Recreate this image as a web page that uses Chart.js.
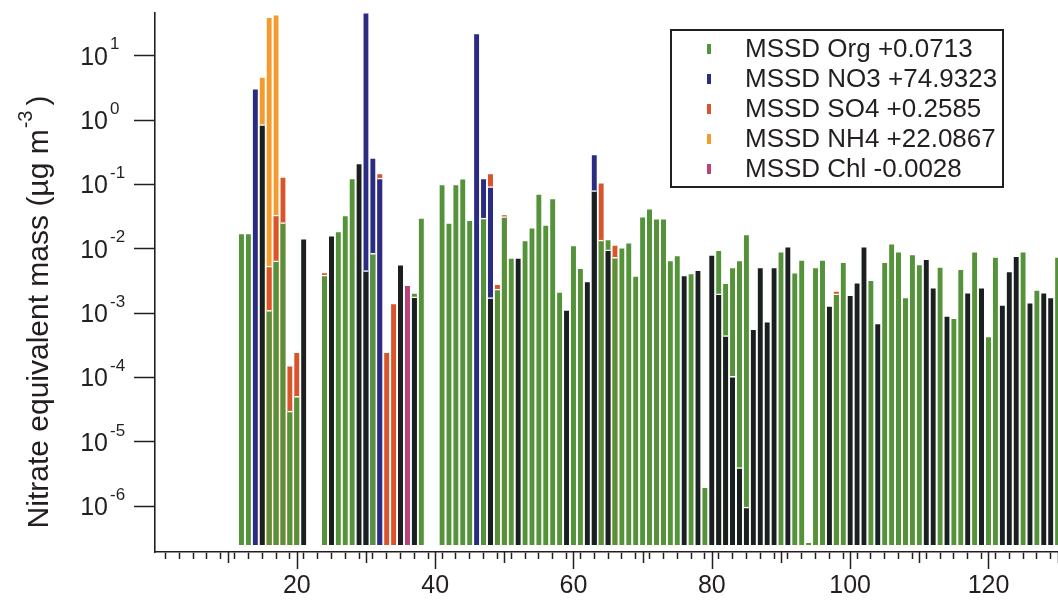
<!DOCTYPE html>
<html>
<head>
<meta charset="utf-8">
<title>MSSD spectrum</title>
<script src="https://cdn.jsdelivr.net/npm/chart.js@4.4.1/dist/chart.umd.min.js"></script>
<style>
  body { margin: 0; background: #fff; }
  canvas { display: block; }
</style>
</head>
<body>
<canvas id="spectrum" width="1058" height="607"></canvas>
<script>
// MSSD difference spectrum per m/z, stacked by species (log axis)

// dark bars (not in the legend), bottom of the stack
const darkMz = [15, 21, 25, 29, 30, 35, 37, 48, 52, 59, 62, 63, 65, 76, 78, 80, 81, 82, 83, 84, 85, 86, 87, 88, 89, 91,
  97, 100, 101, 102, 104, 111, 112, 114, 117, 119, 122, 123, 124, 126, 128, 129];
const darkVals = [0.85, 0.0146, 0.0162, 0.214, 0.0046, 0.00575, 0.00179, 0.00174, 0.0073, 0.00114, 0.00316, 0.080, 0.0096,
  0.0039, 0.0047, 0.0081, 0.0020, 0.00045, 1.04e-4, 4.0e-6, 9.7e-7, 5.7e-4, 0.0052, 7.5e-4, 0.0052, 0.0109,
  0.00131, 0.00192, 0.0030, 0.0109, 7.0e-4, 0.0070, 0.00252, 9.2e-4, 0.0021, 0.00252, 0.00136, 0.0045, 0.0078, 0.00148, 0.0021, 0.00177];

// Org
const orgMz = [12, 13, 16, 17, 18, 19, 20, 24, 26, 27, 28, 31, 37, 38, 41, 42, 43, 44, 45, 47, 49, 50,
  51, 53, 54, 55, 56, 57, 58, 60, 61, 64, 65, 66, 67, 68, 69, 70, 71, 72, 73, 74, 75, 77, 79,
  81, 82, 83, 84, 85, 90, 92, 93, 94, 95, 96, 98, 99, 103, 105, 106, 107, 108, 109, 110,
  113, 115, 116, 118, 120, 121, 125, 127, 130];
const orgVals = [0.0175, 0.0175, 0.00111, 0.0065, 0.0256, 3.0e-5, 5.1e-5, 0.0039, 0.0188, 0.0335, 0.125, 0.0085, 3.0e-4, 0.0306,
  0.101, 0.0256, 0.101, 0.124, 0.0281, 0.030, 0.00236, 0.0316,
  0.0073, 0.0137, 0.0215, 0.0723, 0.0238, 0.0612, 0.00216, 0.0114, 0.00508, 0.0137, 0.0046, 0.0074, 0.0105, 0.0126, 0.00384, 0.032,
  0.0426, 0.0298, 0.0298, 0.0067, 0.0080, 0.0042, 2.0e-6,
  0.0076, 0.0025, 0.0051, 0.0067, 0.017, 0.0091, 0.0043, 0.0068, 2.8e-7, 0.0052, 0.0068, 0.0020, 0.0063,
  0.0033, 0.0063, 0.0122, 0.0091, 0.00177, 0.0083, 0.0058, 0.0053, 0.00085, 0.0049, 0.0091, 0.00044,
  0.0076, 0.0091, 0.00232, 0.0076];

// NO3
const no3Mz = [14, 30, 31, 32, 46, 47, 48, 63];
const no3Vals = [3.1, 47, 0.2535, 0.125, 22.5, 0.095, 0.091, 0.217];

// SO4
const so4Mz = [16, 17, 18, 19, 20, 24, 32, 33, 34, 48, 49, 50, 64, 66, 98];
const so4Vals = [0.0043, 0.027, 0.107, 1.25e-4, 2.0e-4, 4.5e-4, 0.025, 2.5e-4, 0.00143, 0.057, 5.0e-4, 0.003, 0.094, 0.0042, 2.4e-4];

// NH4
const nh4Mz = [15, 16, 17];
const nh4Vals = [3.9, 40, 44];

// Chl
const chlMz = [36];
const chlVals = [0.00275];

const seriesNames = ['dark', 'MSSD Org +0.0713', 'MSSD NO3 +74.9323', 'MSSD SO4 +0.2585', 'MSSD NH4 +22.0867', 'MSSD Chl -0.0028'];
const seriesColors = ['#1a201f', '#55933a', '#2a2b82', '#d9532b', '#f49b2e', '#b9447b'];

const xTickLabels = [20, 40, 60, 80, 100, 120];
const yPowers = [-6, -5, -4, -3, -2, -1, 0, 1];

const ink = '#231f20';
const fontFamily = '"Liberation Sans", Arial, Helvetica, sans-serif';
const barBase = 2.5e-7;  // bars start a bit above the axis line

const minorTicks = [];
for (let v = 2; v <= 130; v += 2) minorTicks.push(v);

function toPoints(mzList, vals) {
    return mzList.map((m, i) => ({ x: m, y: vals[i] }));
}

const stacks = [
    [darkMz, darkVals], [orgMz, orgVals], [no3Mz, no3Vals],
    [so4Mz, so4Vals], [nh4Mz, nh4Vals], [chlMz, chlVals]
];

const datasets = stacks.map(([m, v], i) => ({
    label: seriesNames[i],
    data: toPoints(m, v),
    backgroundColor: seriesColors[i],
    borderColor: '#ffffff',
    borderWidth: { top: 1.5, right: 0, bottom: 0, left: 0 },
    borderSkipped: false,
    base: barBase,
    stack: 'ms',
    barThickness: 5,
    inLegend: i > 0
}));

// y tick labels with raised exponent, longer x ticks, axis title
const axisText = {
    id: 'axisText',
    afterDraw(chart) {
        const { ctx, chartArea, scales: { x, y } } = chart;
        ctx.save();
        ctx.fillStyle = ink;
        ctx.strokeStyle = ink;
        ctx.lineWidth = 1.5;
        for (let v = 10; v <= 130; v += 10) {
            const px = Math.round(x.getPixelForValue(v)) + 0.5;
            const len = v % 20 === 0 ? 17 : 11;
            ctx.beginPath();
            ctx.moveTo(px, chartArea.bottom);
            ctx.lineTo(px, chartArea.bottom + len);
            ctx.stroke();
        }

        yPowers.forEach(p => {
            const py = y.getPixelForValue(Math.pow(10, p));
            ctx.font = `25px ${fontFamily}`;
            ctx.textAlign = 'right';
            ctx.textBaseline = 'middle';
            ctx.fillText('10', 108, py + 2);
            ctx.font = `17px ${fontFamily}`;
            ctx.textAlign = 'left';
            ctx.fillText(String(p), 110, py - 11);
        });

        // y axis title
        const big = `30px ${fontFamily}`, small = `20px ${fontFamily}`;
        const a = 'Nitrate equivalent mass (\u00b5g m', b = '-3', c = ')';
        ctx.translate(40, 312);
        ctx.rotate(-Math.PI / 2);
        ctx.textAlign = 'left';
        ctx.textBaseline = 'middle';
        ctx.font = big;
        const wa = ctx.measureText(a).width, wc = ctx.measureText(c).width;
        ctx.font = small;
        const wb = ctx.measureText(b).width;
        const sx = -(wa + wb + wc + 6) / 2;
        ctx.font = big;
        ctx.fillText(a, sx, 0);
        ctx.font = small;
        ctx.fillText(b, sx + wa + 1, -14);
        ctx.font = big;
        ctx.fillText(c, sx + wa + wb + 6, 0);
        ctx.restore();
    }
};

// boxed legend inside the plot
const legendBox = {
    id: 'legendBox',
    afterDraw(chart) {
        const ctx = chart.ctx;
        const items = chart.data.datasets.filter(d => d.inLegend);
        const left = 671, top = 30, w = 332, h = 157, rowH = 30;
        ctx.save();
        ctx.fillStyle = '#ffffff';
        ctx.fillRect(left, top, w, h);
        ctx.lineWidth = 2;
        ctx.strokeStyle = ink;
        ctx.strokeRect(left, top, w, h);
        ctx.font = `26px ${fontFamily}`;
        ctx.textBaseline = 'middle';
        ctx.textAlign = 'left';
        items.forEach((d, i) => {
            const yy = top + 19 + i * rowH;
            ctx.fillStyle = d.backgroundColor;
            ctx.fillRect(left + 36, yy - 5, 4, 10);
            ctx.fillStyle = ink;
            ctx.fillText(d.label, left + 74, yy + 1);
        });
        ctx.restore();
    }
};

Chart.defaults.font.family = fontFamily;

new Chart(document.getElementById('spectrum'), {
    type: 'bar',
    data: { datasets },
    options: {
        responsive: false,
        animation: false,
        devicePixelRatio: 1,
        layout: { padding: { top: 13, right: 0, left: 0, bottom: 0 } },
        plugins: { legend: { display: false }, tooltip: { enabled: false } },
        scales: {
            x: {
                type: 'linear',
                stacked: true,
                bounds: 'data',
                min: -0.5,
                max: 130.05,
                offset: false,
                afterBuildTicks: s => { s.ticks = minorTicks.map(v => ({ value: v })); },
                afterFit: s => { s.height = 55; s.paddingLeft = 0; s.paddingRight = 0; },
                grid: { drawOnChartArea: false, tickLength: 7, tickColor: ink, tickWidth: 1.5 },
                border: { display: true, color: ink, width: 1.6 },
                ticks: {
                    autoSkip: false,
                    maxRotation: 0,
                    padding: 12,
                    color: ink,
                    font: { size: 25 },
                    callback: v => xTickLabels.includes(v) ? String(v) : ''
                }
            },
            y: {
                type: 'logarithmic',
                stacked: true,
                min: 1.95e-7,
                max: 46,
                afterBuildTicks: s => { s.ticks = yPowers.map(p => ({ value: Math.pow(10, p) })); },
                afterFit: s => { s.width = 155; s.paddingTop = 0; s.paddingBottom = 0; },
                grid: { drawOnChartArea: false, tickLength: 21, tickColor: ink, tickWidth: 1.5 },
                border: { display: true, color: ink, width: 1.6 },
                ticks: { display: false }
            }
        }
    },
    plugins: [axisText, legendBox]
});
</script>
</body>
</html>
